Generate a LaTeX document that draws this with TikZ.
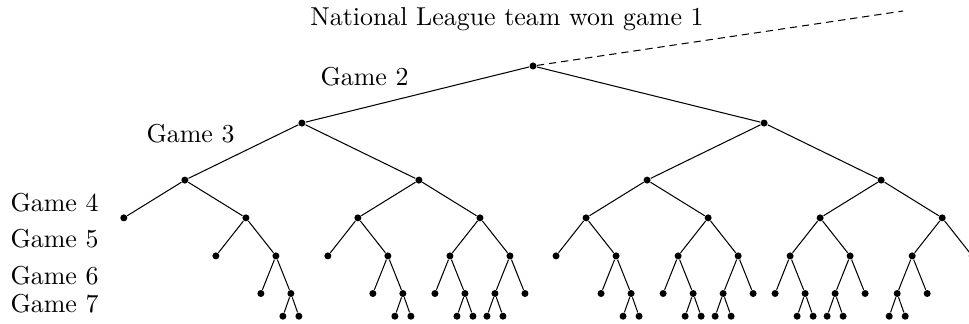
\documentclass[tikz,border=0pt]{standalone}
\usepackage{amsmath}
\usepackage{tikz}

\begin{document}
\begin{tikzpicture}[x=0.01357cm, y=-0.01357cm,
  every node/.style={inner sep=0pt},
  dot/.style={circle, fill, minimum size=0.95mm},
  every child node/.style={dot},
  level 1/.style={sibling distance=6.27cm, level distance=0.774cm},
  level 2/.style={sibling distance=3.175cm, level distance=0.774cm},
  level 3/.style={sibling distance=1.656cm, level distance=0.512cm},
  level 4/.style={sibling distance=0.814cm, level distance=0.516cm},
  level 5/.style={sibling distance=0.407cm, level distance=0.51cm},
  level 6/.style={sibling distance=0.217cm, level distance=0.308cm}]
  \useasboundingbox (0,0) rectangle (969,324);
  \node (title) at (507,19) {National League team won game 1};
  \node[anchor=west] (g2) at (320,77) {Game 2};
  \node[anchor=west] (g3) at (146,134) {Game 3};
  \node[anchor=west] (g4) at (10,203) {Game 4};
  \node[anchor=west] (g5) at (10,239) {Game 5};
  \node[anchor=west] (g6) at (10,276) {Game 6};
  \node[anchor=west] (g7) at (10,304) {Game 7};
  \coordinate (g1) at (903,11);

  \node[dot] (root) at (533,66) {}
    child {node {} % 2-0
      child {node {} % 3-0
        child {node {}}
        child {node {} % 3-1
          child {node {}}
          child {node {} % 3-2
            child {node {}}
            child {node {} child {node {}} child {node {}}}}}}
      child {node {} % 2-1
        child {node {} % 3-1
          child {node {}}
          child {node {}
            child {node {}}
            child {node {} child {node {}} child {node {}}}}}
        child {node {} % 2-2
          child {node {} % 3-2
            child {node {}}
            child {node {} child {node {}} child {node {}}}}
          child {node {} % 2-3
            child {node {} child {node {}} child {node {}}}
            child {node {}}}}}}
    child {node {} % 1-1
      child {node {} % 2-1
        child {node {} % 3-1
          child {node {}}
          child {node {}
            child {node {}}
            child {node {} child {node {}} child {node {}}}}}
        child {node {} % 2-2
          child {node {}
            child {node {}}
            child {node {} child {node {}} child {node {}}}}
          child {node {}
            child {node {} child {node {}} child {node {}}}
            child {node {}}}}}
      child {node {} % 1-2
        child {node {} % 2-2
          child {node {}
            child {node {}}
            child {node {} child {node {}} child {node {}}}}
          child {node {}
            child {node {} child {node {}} child {node {}}}
            child {node {}}}}
        child {node {} % 1-3
          child {node {} % 2-3
            child {node {} child {node {}} child {node {}}}
            child {node {}}}
          child {node {}}}}};

  \draw[dash pattern=on 2.8pt off 1.9pt] (root) -- (g1);
\end{tikzpicture}
\end{document}
